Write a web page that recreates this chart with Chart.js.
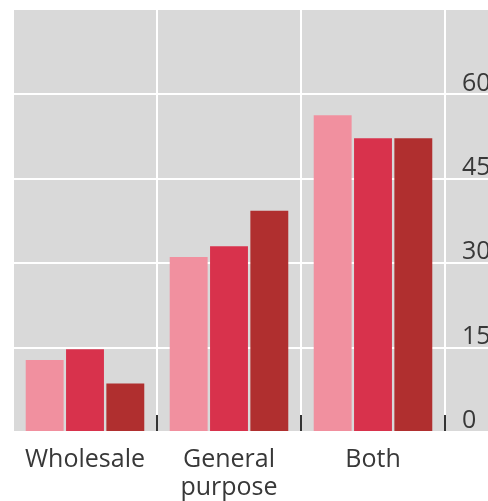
<!DOCTYPE html>
<html>
<head>
<meta charset="utf-8">
<script src="https://cdn.jsdelivr.net/npm/chart.js@4/dist/chart.umd.min.js"></script>
<style>
  html, body { margin: 0; padding: 0; background: #ffffff; }
  #wrap { width: 488px; height: 501px; position: relative; overflow: hidden; }
</style>
</head>
<body>
<div id="wrap"><canvas id="barChart"></canvas></div>
<script>
const categories = ["Wholesale", ["General", "purpose"], "Both"];
const seriesA = [12.8, 31.1, 56.3];
const seriesB = [14.7, 33.0, 52.2];
const seriesC = [8.6, 39.3, 52.2];
const yTicks = [0, 15, 30, 45, 60, 75];

const grayPanel = {
  id: "grayPanel",
  beforeDraw(chart) {
    const { ctx, chartArea } = chart;
    ctx.save();
    ctx.fillStyle = "#d9d9d9";
    ctx.fillRect(chartArea.left, chartArea.top, chart.width - chartArea.left, chartArea.bottom - chartArea.top);
    ctx.restore();
  },
};

const barCtx = document.getElementById("barChart").getContext("2d");

new Chart(barCtx, {
  type: "bar",
  data: {
    labels: categories,
    datasets: [
      { data: seriesA, backgroundColor: "#f1909f" },
      { data: seriesB, backgroundColor: "#d8324c" },
      { data: seriesC, backgroundColor: "#b02f2f" },
    ],
  },
  options: {
    responsive: true,
    maintainAspectRatio: false,
    animation: false,
    categoryPercentage: 0.84,
    barPercentage: 0.94,
    layout: { padding: { left: 13, top: 10, right: 0, bottom: 0 } },
    plugins: { legend: { display: false }, tooltip: { enabled: false } },
    scales: {
      x: {
        grid: {
          offset: true,
          color: "#ffffff",
          lineWidth: 2,
          drawTicks: true,
          tickLength: -17,
          tickWidth: 2,
          tickColor: (c) => (c.index === 0 ? "rgba(0,0,0,0)" : "#333333"),
        },
        border: { display: false },
        ticks: {
          padding: 31,
          color: "#383838",
          font: { family: "Open Sans", size: 25, lineHeight: 1.12 },
          maxRotation: 0,
          autoSkip: false,
        },
        afterFit: (scale) => {
          scale.height = 69;
          scale.paddingLeft = 0;
          scale.paddingRight = 0;
        },
      },
      y: {
        position: "right",
        min: 0,
        max: 75,
        afterBuildTicks: (scale) => { scale.ticks = yTicks.map((v) => ({ value: v })); },
        grid: {
          color: (c) => (c.tick && c.tick.value === 75 ? "rgba(0,0,0,0)" : "#ffffff"),
          lineWidth: 2,
          drawTicks: true,
          tickLength: 43,
          tickWidth: 2,
          tickColor: (c) => (c.tick && c.tick.value === 75 ? "rgba(0,0,0,0)" : "#ffffff"),
        },
        border: { display: false },
        ticks: {
          padding: -26,
          labelOffset: -11,
          color: "#383838",
          font: { family: "Open Sans", size: 25 },
          callback: (v) => (v === 75 ? "" : v),
        },
        afterFit: (scale) => {
          scale.width = 43;
          scale.paddingTop = 0;
          scale.paddingBottom = 0;
        },
      },
    },
  },
  plugins: [grayPanel],
});
</script>
</body>
</html>
